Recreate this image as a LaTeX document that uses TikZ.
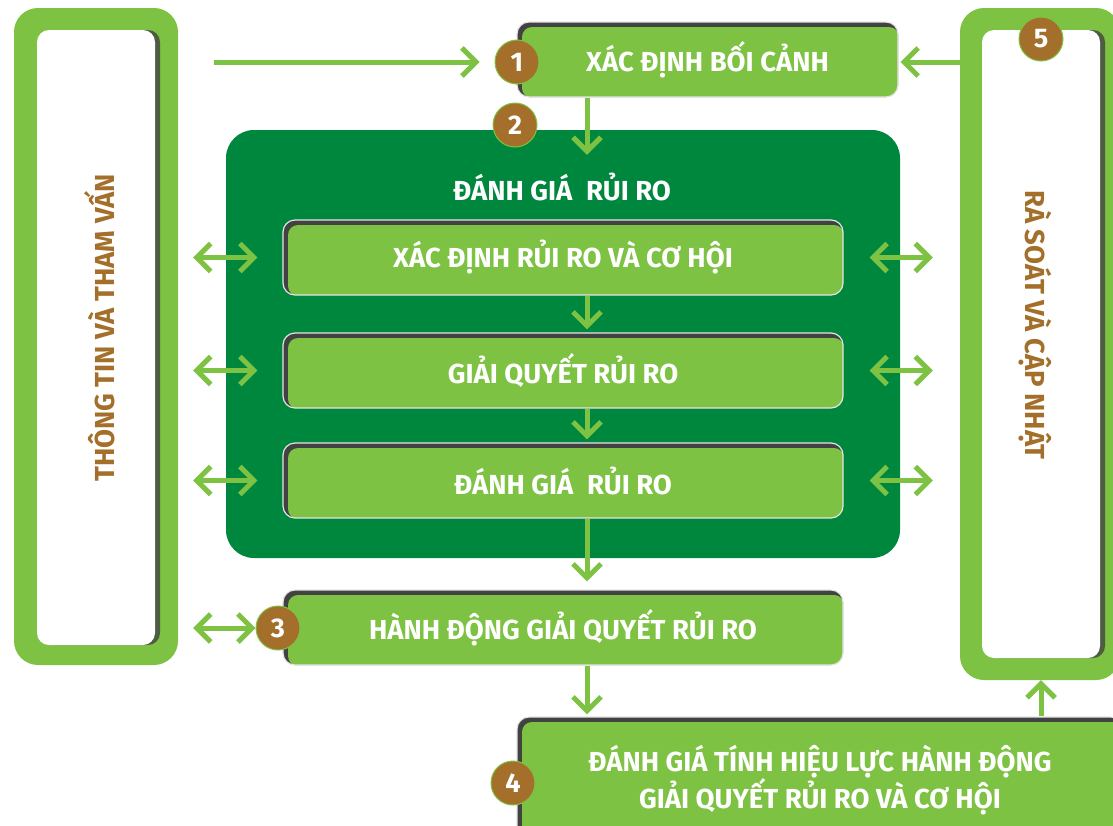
\documentclass[tikz,border=0pt]{standalone}
\usepackage{fontspec}
\setmainfont{Fira Sans}
\usepackage{tikz}
\usetikzlibrary{shapes,arrows.meta,positioning,calc}
\definecolor{LeafGreen}{RGB}{125,194,66}
\definecolor{ForestGreen}{RGB}{0,135,62}
\definecolor{BronzeBrown}{RGB}{163,111,42}
\definecolor{ShadowGray}{RGB}{66,66,66}
\tikzstyle{panel} = [rectangle, rounded corners=24pt, fill=LeafGreen, inner sep=0pt]
\tikzstyle{sheet} = [rectangle, rounded corners=12pt, fill=white, inner sep=0pt]
\tikzstyle{sheetshadow} = [rectangle, rounded corners=12pt, fill=ShadowGray!80!LeafGreen, inner sep=0pt]
\tikzstyle{stepbox} = [rectangle, rounded corners=12pt, fill=ShadowGray, draw=white!80!gray, line width=1.2pt, inner sep=0pt, text=white, align=center, font=\bfseries\fontsize{27.5}{35}\selectfont, path picture={\fill[LeafGreen, rounded corners=10pt] ($(path picture bounding box.north west)+(5pt,-5pt)$) rectangle ($(path picture bounding box.south east)+(1pt,-1pt)$);}]
\tikzstyle{badge} = [circle, minimum size=44pt, inner sep=0pt, fill=BronzeBrown, draw=LeafGreen, line width=1pt, text=white, font=\bfseries\fontsize{27}{27}\selectfont]
\tikzstyle{sidetext} = [text=BronzeBrown, font=\bfseries\fontsize{27.5}{27.5}\selectfont]
\tikzstyle{arrow} = [line width=5pt, draw=LeafGreen, ->]
\tikzstyle{duplex} = [line width=5pt, draw=LeafGreen, <->]

\begin{document}
\begin{tikzpicture}[x=1pt, y=-1pt, >={Straight Barb[length=14pt, width=28pt]}]
\useasboundingbox (0,0) rectangle (1113,825);
\clip (0,0) rectangle (1113,825);

% Khung trái
\node (leftpanel) [panel, minimum width=164pt, minimum height=657pt] at (96,336.5) {};
\node [sheetshadow, minimum width=118pt, minimum height=615pt] at (101,337.5) {};
\node (leftsheet) [sheet, minimum width=118pt, minimum height=615pt] at (96,337.5) {};
\node [sidetext, rotate=90] at (100,328) {THÔNG TIN VÀ THAM VẤN};

% Khung phải
\node (rightpanel) [panel, minimum width=160pt, minimum height=672pt] at (1040,344) {};
\node [sheetshadow, minimum width=118pt, minimum height=628pt] at (1046,344) {};
\node (rightsheet) [sheet, minimum width=118pt, minimum height=628pt] at (1041,344) {};
\node [sidetext, rotate=-90] at (1035,325) {RÀ SOÁT VÀ CẬP NHẬT};

% Bối cảnh
\node (context) [stepbox, minimum width=381pt, minimum height=75pt] at (707.5,59.5) {XÁC ĐỊNH BỐI CẢNH};

% Đánh giá rủi ro
\node (riskbox) [rectangle, rounded corners=28pt, fill=ForestGreen, minimum width=674pt, minimum height=428pt] at (563,344) {};
\node (risktitle) [text=white, font=\bfseries\fontsize{27.5}{27.5}\selectfont] at (562,187) {ĐÁNH GIÁ\enspace RỦI RO};
\node (identify) [stepbox, minimum width=560pt, minimum height=75pt] at (563,257.5) {XÁC ĐỊNH RỦI RO VÀ CƠ HỘI};
\node (treat) [stepbox, minimum width=560pt, minimum height=75pt] at (563,370.5) {GIẢI QUYẾT RỦI RO};
\node (assess) [stepbox, minimum width=560pt, minimum height=75pt] at (563,480.5) {ĐÁNH GIÁ\enspace RỦI RO};

% Hành động và đánh giá hiệu lực
\node (action) [stepbox, minimum width=560pt, minimum height=75pt] at (563,627.5) {HÀNH ĐỘNG GIẢI QUYẾT RỦI RO};
\node (review) [stepbox, minimum width=606pt, minimum height=126pt] at (820,780) {ĐÁNH GIÁ TÍNH HIỆU LỰC HÀNH ĐỘNG\\GIẢI QUYẾT RỦI RO VÀ CƠ HỘI};

% Số thứ tự
\node (n1) [badge] at (517,62) {1};
\node (n2) [badge] at (515,125) {2};
\node (n3) [badge] at (278,628) {3};
\node (n4) [badge] at (513,783) {4};
\node (n5) [badge] at (1041,39) {5};

% Mũi tên
\coordinate (axis) at (587,0);
\draw [arrow, shorten <=36pt, shorten >=15pt] (leftpanel.east |- n1) -- (n1.west);
\draw [arrow, shorten >=2pt] (rightpanel.west |- n1) -- (context.east |- n1);
\draw [arrow] (context.south -| axis) -- ($(riskbox.north -| axis)+(0,25)$);
\draw [arrow, shorten >=3pt] (identify.south -| axis) -- (treat.north -| axis);
\draw [arrow, shorten >=3pt] (treat.south -| axis) -- (assess.north -| axis);
\draw [arrow, shorten >=8pt] (assess.south -| axis) -- (action.north -| axis);
\draw [arrow, shorten >=2pt] (action.south -| axis) -- (review.north -| axis);
\draw [arrow] (review.north -| n5) -- (rightpanel.south -| n5);
\foreach \row in {identify, treat, assess} {
  \draw [duplex, shorten <=15pt, shorten >=25pt] (leftpanel.east |- \row) -- (\row.west);
  \draw [duplex, shorten <=26pt, shorten >=27pt] (\row.east) -- (rightpanel.west |- \row);
}
\draw [duplex, shorten <=15pt] (leftpanel.east |- n3) -- (n3.west);

\end{tikzpicture}
\end{document}
